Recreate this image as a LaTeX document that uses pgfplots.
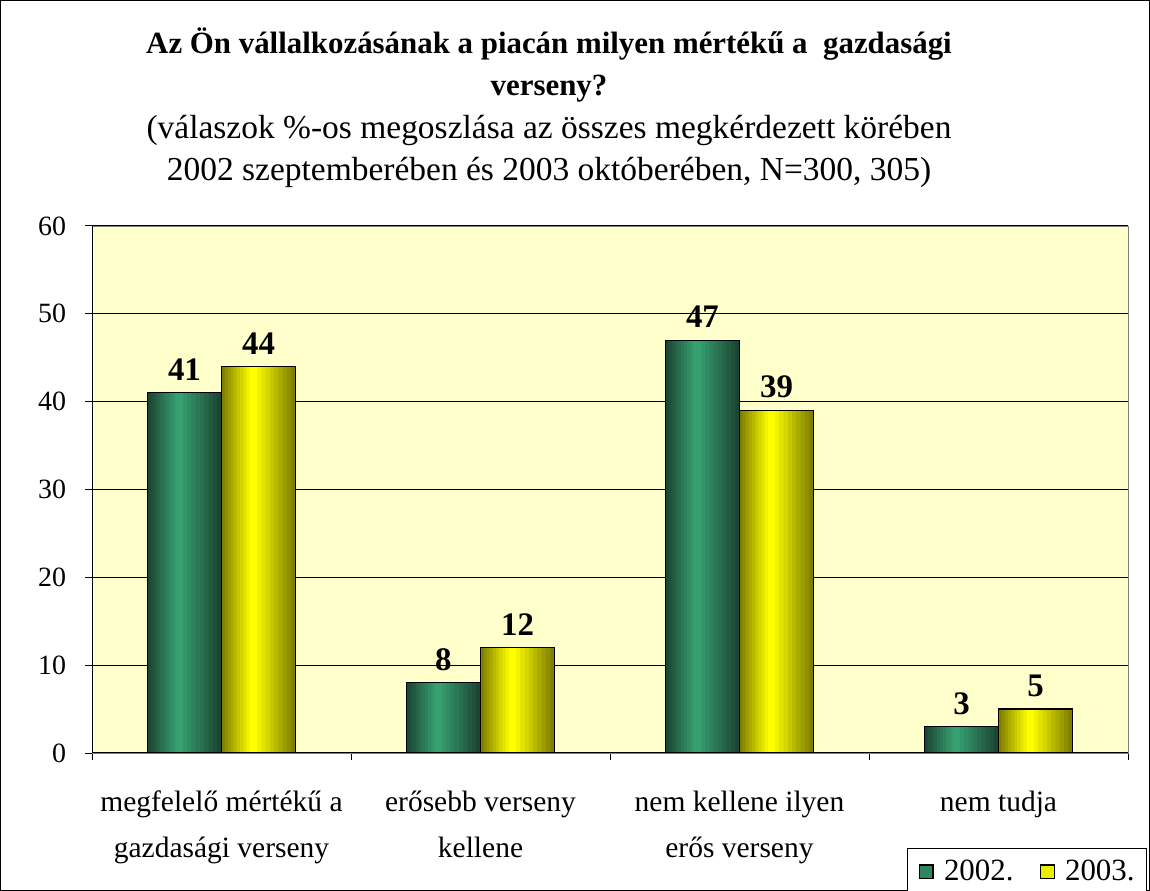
\documentclass[border=0pt]{standalone}
\usepackage{pgfplots}
\usepackage{pgfplotstable}
\pgfplotsset{compat=1.18}
\usepackage{fontspec}
\setmainfont{Liberation Serif}
\definecolor{bgy}{HTML}{FFFFCC}
\definecolor{gdark}{HTML}{1C4634}
\definecolor{gmid}{HTML}{36A070}
\definecolor{ydark}{HTML}{808000}
\definecolor{ymid}{HTML}{FFFF00}
\definecolor{framegray}{HTML}{808080}
\newcommand{\fy}{\fontsize{14}{16}\selectfont}
\newcommand{\fs}{\fontsize{14.8}{21.5}\selectfont}
\newcommand{\fst}{\fontsize{15.5}{21.5}\selectfont}
\newcommand{\fss}{\fontsize{16.8}{21.5}\selectfont}
\pgfplotstableread{
x y
0 41
1 8
2 47
3 3
}\dataA
\pgfplotstableread{
x y
0 44
1 12
2 39
3 5
}\dataB
\begin{document}
\begin{tikzpicture}
\useasboundingbox (0bp,0bp) rectangle (575bp,445.5bp);
\fill[white] (0bp,0bp) rectangle (575bp,445.5bp);
\draw[black, line width=0.6bp] (0.4bp,0.4bp) rectangle (574.6bp,445.1bp);
\node[font=\fst\bfseries, anchor=base] at (274.5bp,418.5bp) {Az Ön vállalkozásának a piacán milyen mértékű a\ \ gazdasági};
\node[font=\fst\bfseries, anchor=base] at (274.5bp,397.5bp) {verseny?};
\node[font=\fss, anchor=base] at (274.5bp,376bp) {(válaszok \%-os megoszlása az összes megkérdezett körében};
\node[font=\fss, anchor=base] at (274.5bp,355bp) {2002 szeptemberében és 2003 októberében, N=300, 305)};
\begin{axis}[
  at={(46bp,69bp)}, anchor=south west,
  width=518bp, height=263.5bp, scale only axis,
  axis background/.style={fill=bgy},
  axis line style={draw=framegray},
  xmin=-0.5, xmax=3.5, ymin=0, ymax=60,
  ytick={0,10,...,60},
  xtick={-0.5,0.5,1.5,2.5,3.5},
  xticklabels={},
  extra x ticks={0,1,2,3},
  extra x tick labels={{megfelelő mértékű a\\[1.5bp]gazdasági verseny},{erősebb verseny\\[1.5bp]kellene},{nem kellene ilyen\\[1.5bp]erős verseny},{nem tudja}},
  extra x tick style={major tick length=0pt, tick style={draw=none}},
  tick pos=left,
  tick align=outside,
  major tick length=3.5bp,
  every tick/.style={black, line width=0.5bp},
  ymajorgrids, grid style={black, line width=0.5bp},
  xticklabel style={align=center, font=\fs, yshift=-15.5bp},
  yticklabel style={font=\fy, xshift=-6bp},
  /pgf/number format/assume math mode=true,
  ybar=0pt, bar width=0.286,
  every node near coord/.append style={font=\fontsize{16.5}{18}\selectfont\bfseries, yshift=2.5bp, text=black},
  legend style={at={(1.0183,-0.2695)}, anchor=south east, draw=black, fill=white,
    font=\fontsize{15.5}{17}\selectfont, legend columns=2, inner ysep=3.6bp, inner xsep=4bp,
    /tikz/every even column/.append style={column sep=9.5bp}},
  legend image code/.code={\path[draw=none,fill=none] (-2.2bp,0bp) -- (10.1bp,0bp); \draw[#1,draw=black,line width=0.6bp] (0bp,-3.3bp) rectangle (6.6bp,3.3bp);},
]
\pgfplotsinvokeforeach{0,...,9}{
  \pgfmathsetmacro\lo{0.42*#1/10}
  \pgfmathsetmacro\hi{1-0.58*#1/10}
  \pgfmathsetmacro\bw{0.286*(\hi-\lo)}
  \pgfmathsetmacro\bs{-0.143+0.286*((\lo+\hi)/2-0.5)}
  \pgfmathsetmacro\pc{100*#1/9}
  \edef\tmp{\noexpand\addplot[forget plot, draw=none, fill=gmid!\pc!gdark, bar width=\bw, bar shift=\bs] table {\noexpand\dataA};}
  \tmp
}
\pgfplotsinvokeforeach{0,...,9}{
  \pgfmathsetmacro\lo{0.42*#1/10}
  \pgfmathsetmacro\hi{1-0.58*#1/10}
  \pgfmathsetmacro\bw{0.286*(\hi-\lo)}
  \pgfmathsetmacro\bs{0.143+0.286*((\lo+\hi)/2-0.5)}
  \pgfmathsetmacro\pc{100*#1/9}
  \edef\tmp{\noexpand\addplot[forget plot, draw=none, fill=ymid!\pc!ydark, bar width=\bw, bar shift=\bs] table {\noexpand\dataB};}
  \tmp
}
\addplot[forget plot, draw=black, fill=none, line width=0.6bp, bar width=0.286, bar shift=-0.143, nodes near coords] table {\dataA};
\addplot[forget plot, draw=black, fill=none, line width=0.6bp, bar width=0.286, bar shift=0.143, nodes near coords] table {\dataB};
\addlegendimage{fill=gmid!70!gdark}
\addlegendentry{2002.}
\addlegendimage{fill=ymid!85!ydark}
\addlegendentry{2003.}
\draw[black, line width=0.6bp] (rel axis cs:0,0) -- (rel axis cs:0,1);
\draw[black, line width=0.6bp] (rel axis cs:0,0) -- (rel axis cs:1,0);
\end{axis}
\end{tikzpicture}
\end{document}
